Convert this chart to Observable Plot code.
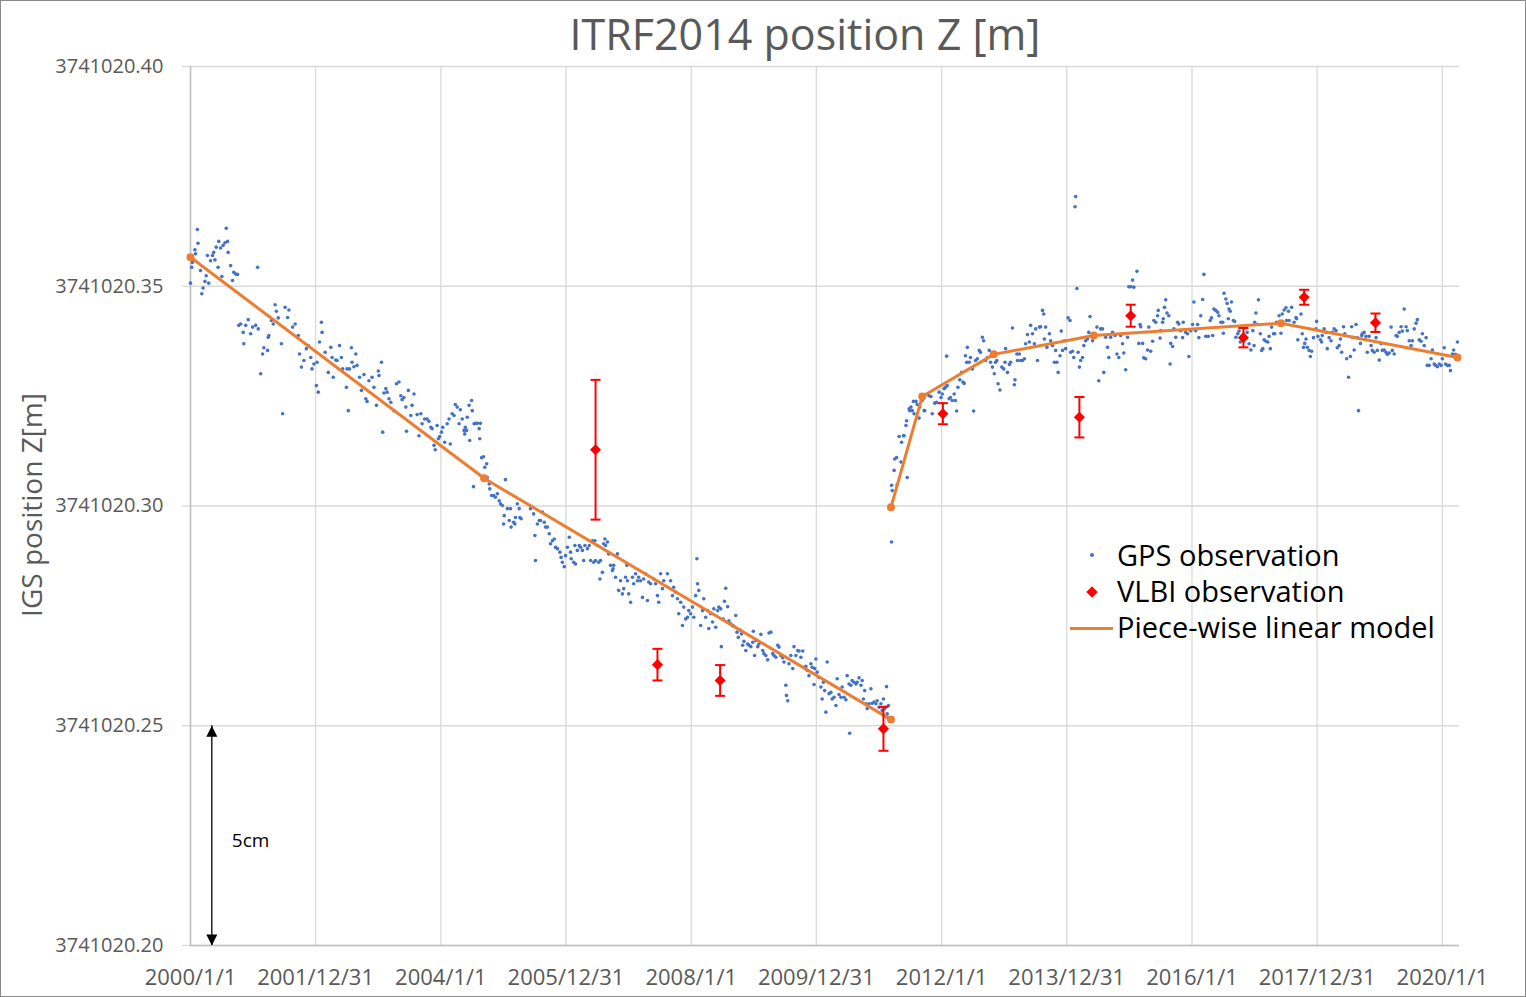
<!DOCTYPE html>
<html><head><meta charset="utf-8">
<script src="https://cdn.jsdelivr.net/npm/d3@7"></script>
<script src="https://cdn.jsdelivr.net/npm/@observablehq/plot@0.6"></script>
<style>
body{margin:0;background:#fff;}
#wrap{position:relative;width:1526px;height:997px;font-family:"Open Sans",sans-serif;overflow:hidden;}
#frame{position:absolute;left:0;top:0;width:1524px;height:995px;border:1px solid #898989;pointer-events:none;}
#title{position:absolute;left:805px;top:12px;transform:translateX(-50%);white-space:nowrap;font-size:43px;line-height:1;color:#595959;}
#ytitle{position:absolute;left:31px;top:505px;transform:translate(-50%,-50%) rotate(-90deg);white-space:nowrap;font-size:28px;line-height:1;color:#595959;}
.lt{position:absolute;left:1117px;font-size:29px;line-height:1;color:#000;white-space:nowrap;}
#plot{position:absolute;left:0;top:0;}
</style></head>
<body>
<div id="wrap">
  <div id="plot"></div>
  <div id="title">ITRF2014 position Z [m]</div>
  <div id="ytitle">IGS position Z[m]</div>
  <div style="position:absolute;left:1090px;top:553px;width:4px;height:4px;border-radius:50%;background:#4472C4"></div>
  <div class="lt" style="top:540px">GPS observation</div>
  <div style="position:absolute;left:1087.5px;top:587.5px;width:8px;height:8px;background:#FF0000;transform:rotate(45deg)"></div>
  <div class="lt" style="top:576px">VLBI observation</div>
  <div style="position:absolute;left:1070px;top:627px;width:43px;height:3px;background:#ED7D31"></div>
  <div class="lt" style="top:612px">Piece-wise linear model</div>
  <div id="frame"></div>
</div>
<script>
// ---- data (decimal year, Z in metres) ----
const xTickDates = ["2000-01-01","2001-12-31","2004-01-01","2005-12-31","2008-01-01","2009-12-31","2012-01-01","2013-12-31","2016-01-01","2017-12-31","2020-01-01"];
const yTickValues = [3741020.20, 3741020.25, 3741020.30, 3741020.35, 3741020.40];
const xDomain = ["2000-01-01", "2020-04-10"];
const yDomain = [3741020.20, 3741020.40];

const gps = [
[2000.00,3741020.3507],[2000.02,3741020.3543],[2000.03,3741020.3554],[2000.07,3741020.3583],[2000.08,3741020.3574],[2000.11,3741020.3629],[2000.12,3741020.3598],[2000.16,3741020.3536],[2000.18,3741020.3483],[2000.20,3741020.3496],[2000.23,3741020.3511],[2000.25,3741020.3524],[2000.27,3741020.3570],[2000.29,3741020.3507],[2000.32,3741020.3558],[2000.35,3741020.3570],[2000.37,3741020.3577],[2000.39,3741020.3560],[2000.41,3741020.3589],[2000.44,3741020.3543],[2000.45,3741020.3602],[2000.48,3741020.3587],[2000.50,3741020.3522],[2000.52,3741020.3593],[2000.55,3741020.3599],[2000.57,3741020.3632],[2000.59,3741020.3602],[2000.60,3741020.3577],[2000.64,3741020.3547],[2000.67,3741020.3513],[2000.69,3741020.3532],[2000.72,3741020.3528],[2000.75,3741020.3527],
[2000.77,3741020.3411],[2000.80,3741020.3414],[2000.84,3741020.3395],[2000.85,3741020.3369],[2000.88,3741020.3411],[2000.92,3741020.3424],[2000.96,3741020.3392],[2000.99,3741020.3407],[2001.04,3741020.3411],[2001.07,3741020.3543],[2001.08,3741020.3403],[2001.12,3741020.3301],[2001.15,3741020.3346],[2001.17,3741020.3360],[2001.23,3741020.3354],[2001.24,3741020.3384],[2001.25,3741020.3388],[2001.29,3741020.3422],[2001.32,3741020.3414],[2001.35,3741020.3458],[2001.37,3741020.3443],[2001.40,3741020.3428],[2001.45,3741020.3369],[2001.47,3741020.3210],[2001.51,3741020.3452],[2001.55,3741020.3429],[2001.57,3741020.3446],[2001.63,3741020.3407],[2001.67,3741020.3414],[2001.72,3741020.3388],[2001.74,3741020.3346],[2001.77,3741020.3316],[2001.81,3741020.3331],[2001.85,3741020.3358],[2001.88,3741020.3365],[2001.92,3741020.3338],[2001.94,3741020.3312],[2001.97,3741020.3323],
[2002.01,3741020.3274],[2002.02,3741020.3327],[2002.04,3741020.3259],[2002.06,3741020.3373],[2002.09,3741020.3418],[2002.10,3741020.3395],[2002.15,3741020.3350],[2002.20,3741020.3304],[2002.24,3741020.3361],[2002.26,3741020.3338],[2002.28,3741020.3293],[2002.32,3741020.3332],[2002.34,3741020.3331],[2002.38,3741020.3365],[2002.41,3741020.3338],[2002.43,3741020.3312],[2002.49,3741020.3270],[2002.50,3741020.3312],[2002.52,3741020.3217],[2002.54,3741020.3312],[2002.57,3741020.3360],[2002.58,3741020.3327],[2002.61,3741020.3317],[2002.64,3741020.3346],[2002.66,3741020.3320],[2002.70,3741020.3293],[2002.73,3741020.3263],[2002.77,3741020.3299],[2002.80,3741020.3244],[2002.82,3741020.3238],[2002.85,3741020.3285],[2002.90,3741020.3293],[2002.93,3741020.3270],[2002.97,3741020.3229],
[2003.00,3741020.3307],[2003.01,3741020.3297],[2003.05,3741020.3327],[2003.07,3741020.3168],[2003.09,3741020.3257],[2003.12,3741020.3267],[2003.14,3741020.3259],[2003.17,3741020.3244],[2003.20,3741020.3236],[2003.25,3741020.3217],[2003.29,3741020.3278],[2003.33,3741020.3282],[2003.36,3741020.3251],[2003.38,3741020.3242],[2003.41,3741020.3247],[2003.44,3741020.3225],[2003.45,3741020.3170],[2003.48,3741020.3263],[2003.52,3741020.3206],[2003.54,3741020.3229],[2003.57,3741020.3255],[2003.62,3741020.3208],[2003.65,3741020.3160],[2003.68,3741020.3210],[2003.70,3741020.3187],[2003.74,3741020.3198],[2003.78,3741020.3198],[2003.81,3741020.3193],[2003.84,3741020.3179],[2003.86,3741020.3176],[2003.89,3741020.3138],[2003.91,3741020.3128],[2003.94,3741020.3183],[2003.96,3741020.3153],[2003.98,3741020.3158],
[2004.01,3741020.3168],[2004.03,3741020.3179],[2004.06,3741020.3145],[2004.10,3741020.3187],[2004.13,3741020.3198],[2004.15,3741020.3141],[2004.18,3741020.3210],[2004.21,3741020.3206],[2004.23,3741020.3231],[2004.26,3741020.3225],[2004.29,3741020.3187],[2004.31,3741020.3219],[2004.34,3741020.3198],[2004.37,3741020.3172],[2004.38,3741020.3164],[2004.39,3741020.3179],[2004.41,3741020.3172],[2004.42,3741020.3202],[2004.45,3741020.3229],[2004.46,3741020.3149],[2004.49,3741020.3240],[2004.50,3741020.3217],[2004.52,3741020.3044],[2004.53,3741020.3187],[2004.55,3741020.3188],[2004.58,3741020.3188],[2004.61,3741020.3176],[2004.62,3741020.3153],[2004.63,3741020.3188],[2004.65,3741020.3110],[2004.68,3741020.3112],[2004.70,3741020.3088],[2004.73,3741020.3096],[2004.74,3741020.3065],[2004.77,3741020.3050],[2004.78,3741020.3039],[2004.81,3741020.3024],[2004.84,3741020.3024],[2004.87,3741020.3020],[2004.90,3741020.3028],[2004.93,3741020.3012],[2004.95,3741020.3005],[2004.98,3741020.3001],
[2005.00,3741020.2959],[2005.01,3741020.2978],[2005.03,3741020.3060],[2005.06,3741020.2994],[2005.09,3741020.2967],[2005.11,3741020.2994],[2005.12,3741020.2952],[2005.16,3741020.2963],[2005.18,3741020.2959],[2005.19,3741020.2974],[2005.22,3741020.3005],[2005.25,3741020.2994],[2005.26,3741020.2974],[2005.28,3741020.2971],[2005.43,3741020.2994],[2005.48,3741020.2982],[2005.50,3741020.2933],[2005.51,3741020.2876],[2005.54,3741020.2959],[2005.57,3741020.2967],[2005.59,3741020.2967],[2005.62,3741020.2986],[2005.65,3741020.2963],[2005.67,3741020.2952],[2005.70,3741020.2952],[2005.73,3741020.2937],[2005.75,3741020.2914],[2005.78,3741020.2921],[2005.81,3741020.2925],[2005.83,3741020.2906],[2005.86,3741020.2903],[2005.90,3741020.2895],[2005.92,3741020.2883],[2005.94,3741020.2872],[2005.97,3741020.2862],[2005.99,3741020.2887],
[2006.02,3741020.2906],[2006.05,3741020.2929],[2006.07,3741020.2895],[2006.08,3741020.2880],[2006.12,3741020.2872],[2006.14,3741020.2910],[2006.15,3741020.2868],[2006.18,3741020.2899],[2006.21,3741020.2910],[2006.23,3741020.2906],[2006.26,3741020.2899],[2006.28,3741020.2876],[2006.30,3741020.2910],[2006.34,3741020.2903],[2006.37,3741020.2910],[2006.39,3741020.2876],[2006.42,3741020.2921],[2006.44,3741020.2872],[2006.46,3741020.2921],[2006.47,3741020.2876],[2006.50,3741020.2910],[2006.52,3741020.2872],[2006.54,3741020.2834],[2006.55,3741020.2876],[2006.58,3741020.2849],[2006.60,3741020.2914],[2006.62,3741020.2925],[2006.63,3741020.2910],[2006.66,3741020.2918],[2006.68,3741020.2891],[2006.71,3741020.2865],[2006.74,3741020.2853],[2006.75,3741020.2857],[2006.76,3741020.2865],[2006.79,3741020.2838],[2006.82,3741020.2891],[2006.84,3741020.2808],[2006.87,3741020.2830],[2006.90,3741020.2800],[2006.92,3741020.2812],[2006.95,3741020.2838],[2006.97,3741020.2865],[2006.98,3741020.2830],
[2007.00,3741020.2800],[2007.03,3741020.2781],[2007.06,3741020.2838],[2007.08,3741020.2823],[2007.11,3741020.2846],[2007.14,3741020.2830],[2007.16,3741020.2838],[2007.19,3741020.2830],[2007.22,3741020.2792],[2007.24,3741020.2834],[2007.27,3741020.2846],[2007.30,3741020.2785],[2007.32,3741020.2827],[2007.35,3741020.2823],[2007.40,3741020.2834],[2007.43,3741020.2823],[2007.46,3741020.2796],[2007.48,3741020.2781],[2007.51,3741020.2846],[2007.54,3741020.2812],[2007.56,3741020.2830],[2007.62,3741020.2846],[2007.67,3741020.2830],[2007.70,3741020.2796],[2007.72,3741020.2815],[2007.75,3741020.2804],[2007.78,3741020.2789],[2007.80,3741020.2755],[2007.83,3741020.2781],[2007.86,3741020.2728],[2007.88,3741020.2770],[2007.91,3741020.2743],[2007.94,3741020.2747],[2007.96,3741020.2762],[2007.99,3741020.2755],
[2008.02,3741020.2770],[2008.04,3741020.2747],[2008.07,3741020.2796],[2008.09,3741020.2880],[2008.10,3741020.2823],[2008.12,3741020.2808],[2008.15,3741020.2728],[2008.18,3741020.2762],[2008.20,3741020.2789],[2008.23,3741020.2747],[2008.26,3741020.2762],[2008.28,3741020.2721],[2008.31,3741020.2755],[2008.34,3741020.2736],[2008.36,3741020.2766],[2008.39,3741020.2724],[2008.42,3741020.2762],[2008.44,3741020.2770],[2008.47,3741020.2766],[2008.48,3741020.2680],[2008.51,3741020.2743],[2008.53,3741020.2783],[2008.55,3741020.2813],[2008.58,3741020.2771],[2008.60,3741020.2739],[2008.63,3741020.2732],[2008.66,3741020.2728],[2008.68,3741020.2726],[2008.71,3741020.2751],[2008.73,3741020.2713],[2008.75,3741020.2701],[2008.78,3741020.2718],[2008.80,3741020.2709],[2008.82,3741020.2683],[2008.84,3741020.2692],[2008.87,3741020.2671],[2008.90,3741020.2686],[2008.92,3741020.2683],[2008.95,3741020.2680],[2008.98,3741020.2690],[2008.99,3741020.2715],
[2009.01,3741020.2660],[2009.03,3741020.2694],[2009.06,3741020.2680],[2009.08,3741020.2686],[2009.11,3741020.2708],[2009.14,3741020.2671],[2009.16,3741020.2664],[2009.19,3741020.2660],[2009.22,3741020.2650],[2009.24,3741020.2711],[2009.27,3741020.2713],[2009.30,3741020.2664],[2009.32,3741020.2660],[2009.35,3741020.2656],[2009.38,3741020.2683],[2009.40,3741020.2679],[2009.43,3741020.2660],[2009.46,3741020.2655],[2009.48,3741020.2645],[2009.51,3741020.2592],[2009.52,3741020.2569],[2009.54,3741020.2557],[2009.56,3741020.2641],[2009.59,3741020.2660],[2009.62,3741020.2630],[2009.64,3741020.2680],[2009.67,3741020.2660],[2009.70,3741020.2671],[2009.72,3741020.2670],[2009.75,3741020.2656],[2009.78,3741020.2670],[2009.80,3741020.2633],[2009.83,3741020.2635],[2009.85,3741020.2626],[2009.88,3741020.2614],[2009.91,3741020.2641],[2009.93,3741020.2633],[2009.96,3741020.2594],[2009.97,3741020.2630],[2009.99,3741020.2652],
[2010.01,3741020.2622],[2010.04,3741020.2610],[2010.07,3741020.2588],[2010.09,3741020.2561],[2010.11,3741020.2599],[2010.13,3741020.2580],[2010.15,3741020.2531],[2010.17,3741020.2645],[2010.20,3741020.2573],[2010.23,3741020.2576],[2010.25,3741020.2561],[2010.28,3741020.2565],[2010.31,3741020.2546],[2010.33,3741020.2607],[2010.36,3741020.2571],[2010.39,3741020.2565],[2010.41,3741020.2588],[2010.44,3741020.2565],[2010.47,3741020.2559],[2010.49,3741020.2614],[2010.52,3741020.2595],[2010.53,3741020.2483],[2010.55,3741020.2592],[2010.57,3741020.2603],[2010.60,3741020.2599],[2010.63,3741020.2595],[2010.65,3741020.2599],[2010.68,3741020.2609],[2010.71,3741020.2592],[2010.73,3741020.2603],[2010.75,3741020.2561],[2010.77,3741020.2580],[2010.79,3741020.2550],[2010.81,3741020.2539],[2010.84,3741020.2550],[2010.87,3741020.2584],[2010.89,3741020.2551],[2010.92,3741020.2554],[2010.95,3741020.2550],[2010.97,3741020.2557],
[2011.00,3741020.2542],[2011.03,3741020.2550],[2011.05,3741020.2535],[2011.07,3741020.2561],[2011.09,3741020.2539],[2011.10,3741020.2542],[2011.12,3741020.2589],[2011.13,3741020.2527],[2011.15,3741020.2546],
[2011.20,3741020.2918],[2011.20,3741020.3047],[2011.21,3741020.3035],[2011.24,3741020.3081],[2011.25,3741020.3107],[2011.28,3741020.3110],[2011.29,3741020.3049],[2011.32,3741020.3158],[2011.35,3741020.3100],[2011.36,3741020.3145],[2011.39,3741020.3160],[2011.40,3741020.3160],[2011.43,3741020.3183],[2011.44,3741020.3194],[2011.45,3741020.3065],[2011.48,3741020.3221],[2011.49,3741020.3217],[2011.51,3741020.3225],[2011.53,3741020.3217],[2011.55,3741020.3238],[2011.56,3741020.3210],[2011.59,3741020.3238],[2011.61,3741020.3231],[2011.64,3741020.3200],[2011.65,3741020.3225],[2011.69,3741020.3240],[2011.72,3741020.3217],[2011.73,3741020.3217],[2011.77,3741020.3255],[2011.80,3741020.3251],[2011.83,3741020.3249],[2011.85,3741020.3210],[2011.89,3741020.3234],[2011.92,3741020.3236],[2011.96,3741020.3259],[2011.99,3741020.3247],
[2012.01,3741020.3255],[2012.04,3741020.3267],[2012.06,3741020.3270],[2012.08,3741020.3341],[2012.09,3741020.3274],[2012.12,3741020.3244],[2012.14,3741020.3247],[2012.17,3741020.3240],[2012.20,3741020.3255],[2012.22,3741020.3240],[2012.24,3741020.3216],[2012.26,3741020.3270],[2012.29,3741020.3287],[2012.32,3741020.3304],[2012.34,3741020.3282],[2012.36,3741020.3279],[2012.38,3741020.3342],[2012.40,3741020.3327],[2012.41,3741020.3361],[2012.44,3741020.3327],[2012.46,3741020.3338],[2012.49,3741020.3312],[2012.51,3741020.3216],[2012.54,3741020.3331],[2012.57,3741020.3335],[2012.60,3741020.3354],[2012.62,3741020.3350],[2012.65,3741020.3384],[2012.67,3741020.3376],[2012.70,3741020.3331],[2012.73,3741020.3338],[2012.76,3741020.3354],[2012.78,3741020.3327],[2012.81,3741020.3316],[2012.84,3741020.3301],[2012.86,3741020.3327],[2012.88,3741020.3331],[2012.90,3741020.3278],[2012.93,3741020.3264],[2012.96,3741020.3316],[2012.99,3741020.3312],
[2013.01,3741020.3327],[2013.02,3741020.3358],[2013.05,3741020.3304],[2013.08,3741020.3322],[2013.10,3741020.3327],[2013.13,3741020.3405],[2013.16,3741020.3276],[2013.17,3741020.3287],[2013.20,3741020.3346],[2013.21,3741020.3331],[2013.24,3741020.3346],[2013.26,3741020.3331],[2013.29,3741020.3331],[2013.32,3741020.3335],[2013.34,3741020.3369],[2013.37,3741020.3390],[2013.40,3741020.3373],[2013.42,3741020.3411],[2013.45,3741020.3392],[2013.48,3741020.3369],[2013.50,3741020.3403],[2013.53,3741020.3331],[2013.56,3741020.3407],[2013.58,3741020.3408],[2013.61,3741020.3445],[2013.63,3741020.3437],[2013.64,3741020.3380],[2013.66,3741020.3407],[2013.68,3741020.3361],[2013.72,3741020.3392],[2013.74,3741020.3376],[2013.77,3741020.3365],[2013.80,3741020.3327],[2013.82,3741020.3354],[2013.84,3741020.3327],[2013.86,3741020.3304],[2013.89,3741020.3342],[2013.91,3741020.3398],[2013.93,3741020.3354],[2013.96,3741020.3376],[2013.98,3741020.3358],
[2014.02,3741020.3428],[2014.05,3741020.3422],[2014.06,3741020.3350],[2014.09,3741020.3352],[2014.11,3741020.3338],[2014.13,3741020.3681],[2014.14,3741020.3704],[2014.16,3741020.3495],[2014.18,3741020.3350],[2014.20,3741020.3316],[2014.22,3741020.3331],[2014.25,3741020.3338],[2014.27,3741020.3365],[2014.30,3741020.3376],[2014.33,3741020.3380],[2014.35,3741020.3395],[2014.37,3741020.3431],[2014.41,3741020.3376],[2014.44,3741020.3384],[2014.48,3741020.3407],[2014.51,3741020.3285],[2014.54,3741020.3403],[2014.57,3741020.3403],[2014.59,3741020.3304],[2014.62,3741020.3384],[2014.65,3741020.3361],[2014.67,3741020.3338],[2014.70,3741020.3384],[2014.73,3741020.3395],[2014.77,3741020.3388],[2014.80,3741020.3346],[2014.83,3741020.3338],[2014.86,3741020.3388],[2014.89,3741020.3369],[2014.91,3741020.3348],[2014.94,3741020.3310],[2014.97,3741020.3384],[2014.99,3741020.3499],
[2015.02,3741020.3499],[2015.05,3741020.3514],[2015.07,3741020.3498],[2015.12,3741020.3534],[2015.15,3741020.3370],[2015.17,3741020.3413],[2015.18,3741020.3408],[2015.21,3741020.3370],[2015.23,3741020.3337],[2015.26,3741020.3335],[2015.29,3741020.3355],[2015.31,3741020.3407],[2015.34,3741020.3352],[2015.37,3741020.3375],[2015.39,3741020.3422],[2015.42,3741020.3418],[2015.45,3741020.3433],[2015.46,3741020.3445],[2015.49,3741020.3382],[2015.50,3741020.3399],[2015.53,3741020.3418],[2015.54,3741020.3426],[2015.56,3741020.3452],[2015.58,3741020.3469],[2015.60,3741020.3439],[2015.63,3741020.3433],[2015.65,3741020.3323],[2015.66,3741020.3370],[2015.69,3741020.3363],[2015.71,3741020.3403],[2015.74,3741020.3384],[2015.77,3741020.3418],[2015.79,3741020.3414],[2015.82,3741020.3399],[2015.85,3741020.3383],[2015.86,3741020.3418],[2015.90,3741020.3395],[2015.93,3741020.3392],[2015.95,3741020.3340],[2015.98,3741020.3399],
[2016.01,3741020.3413],[2016.03,3741020.3464],[2016.06,3741020.3399],[2016.09,3741020.3413],[2016.11,3741020.3383],[2016.14,3741020.3433],[2016.17,3741020.3470],[2016.19,3741020.3527],[2016.22,3741020.3386],[2016.26,3741020.3386],[2016.29,3741020.3422],[2016.31,3741020.3428],[2016.33,3741020.3388],[2016.35,3741020.3448],[2016.38,3741020.3445],[2016.41,3741020.3441],[2016.43,3741020.3433],[2016.46,3741020.3418],[2016.49,3741020.3418],[2016.50,3741020.3393],[2016.51,3741020.3484],[2016.54,3741020.3471],[2016.56,3741020.3461],[2016.58,3741020.3426],[2016.59,3741020.3448],[2016.61,3741020.3443],[2016.63,3741020.3464],[2016.66,3741020.3422],[2016.68,3741020.3420],[2016.70,3741020.3384],[2016.73,3741020.3392],[2016.75,3741020.3398],[2016.77,3741020.3373],[2016.81,3741020.3388],[2016.84,3741020.3405],[2016.88,3741020.3395],[2016.91,3741020.3369],[2016.94,3741020.3355],[2016.97,3741020.3399],[2016.99,3741020.3365],
[2017.00,3741020.3418],[2017.02,3741020.3439],[2017.05,3741020.3413],[2017.06,3741020.3469],[2017.09,3741020.3392],[2017.11,3741020.3354],[2017.13,3741020.3358],[2017.15,3741020.3378],[2017.18,3741020.3375],[2017.21,3741020.3373],[2017.23,3741020.3386],[2017.25,3741020.3358],[2017.27,3741020.3407],[2017.30,3741020.3392],[2017.32,3741020.3392],[2017.35,3741020.3418],[2017.39,3741020.3433],[2017.42,3741020.3393],[2017.44,3741020.3437],[2017.47,3741020.3446],[2017.50,3741020.3451],[2017.51,3741020.3422],[2017.54,3741020.3443],[2017.55,3741020.3422],[2017.59,3741020.3452],[2017.63,3741020.3418],[2017.66,3741020.3429],[2017.67,3741020.3426],[2017.69,3741020.3378],[2017.74,3741020.3437],[2017.76,3741020.3392],[2017.78,3741020.3361],[2017.80,3741020.3370],[2017.82,3741020.3380],[2017.84,3741020.3361],[2017.87,3741020.3354],[2017.89,3741020.3340],[2017.91,3741020.3352],[2017.94,3741020.3383],[2017.98,3741020.3403],[2017.99,3741020.3420],
[2018.01,3741020.3386],[2018.05,3741020.3378],[2018.07,3741020.3373],[2018.08,3741020.3388],[2018.11,3741020.3403],[2018.14,3741020.3395],[2018.16,3741020.3358],[2018.19,3741020.3383],[2018.22,3741020.3376],[2018.24,3741020.3395],[2018.27,3741020.3403],[2018.30,3741020.3399],[2018.32,3741020.3360],[2018.35,3741020.3365],[2018.37,3741020.3380],[2018.39,3741020.3350],[2018.42,3741020.3408],[2018.44,3741020.3392],[2018.47,3741020.3335],[2018.50,3741020.3293],[2018.53,3741020.3340],[2018.55,3741020.3408],[2018.56,3741020.3384],[2018.59,3741020.3355],[2018.62,3741020.3413],[2018.64,3741020.3383],[2018.66,3741020.3217],[2018.69,3741020.3370],[2018.71,3741020.3388],[2018.72,3741020.3392],[2018.75,3741020.3395],[2018.78,3741020.3386],[2018.80,3741020.3350],[2018.83,3741020.3386],[2018.86,3741020.3365],[2018.88,3741020.3354],[2018.91,3741020.3350],[2018.94,3741020.3383],[2018.96,3741020.3354],[2018.99,3741020.3332],
[2019.02,3741020.3369],[2019.04,3741020.3354],[2019.07,3741020.3355],[2019.10,3741020.3350],[2019.12,3741020.3345],[2019.15,3741020.3348],[2019.18,3741020.3407],[2019.20,3741020.3354],[2019.23,3741020.3346],[2019.26,3741020.3388],[2019.28,3741020.3386],[2019.31,3741020.3395],[2019.34,3741020.3408],[2019.36,3741020.3398],[2019.39,3741020.3448],[2019.42,3741020.3408],[2019.44,3741020.3399],[2019.47,3741020.3376],[2019.50,3741020.3365],[2019.52,3741020.3376],[2019.55,3741020.3403],[2019.58,3741020.3416],[2019.60,3741020.3424],[2019.63,3741020.3378],[2019.66,3741020.3375],[2019.68,3741020.3392],[2019.71,3741020.3365],[2019.74,3741020.3383],[2019.76,3741020.3320],[2019.79,3741020.3320],[2019.82,3741020.3335],[2019.84,3741020.3355],[2019.87,3741020.3323],[2019.89,3741020.3320],[2019.92,3741020.3317],[2019.95,3741020.3323],[2019.98,3741020.3320],
[2020.00,3741020.3335],[2020.03,3741020.3360],[2020.05,3741020.3323],[2020.08,3741020.3320],[2020.11,3741020.3320],[2020.13,3741020.3308],[2020.16,3741020.3346],[2020.18,3741020.3355],[2020.21,3741020.3345],[2020.24,3741020.3373]
];

const vlbiYear = [2006.47, 2007.46, 2008.46, 2011.07, 2012.02, 2014.20, 2015.02, 2016.82, 2017.79, 2018.93];
const vlbiZ    = [3741020.3128, 3741020.2639, 3741020.2603, 3741020.2493, 3741020.3210, 3741020.3202, 3741020.3433, 3741020.3383, 3741020.3475, 3741020.3417];
const vlbiErr  = [0.0159, 0.0036, 0.0035, 0.0050, 0.0024, 0.0046, 0.0025, 0.0022, 0.0017, 0.0021];

const modelYear = [2000.00, 2004.69, 2011.19, 2011.19, 2011.69, 2012.83, 2014.43, 2017.42, 2020.24];
const modelZ    = [3741020.3566, 3741020.3063, 3741020.2514, 3741020.2997, 3741020.3249, 3741020.3345, 3741020.3388, 3741020.3416, 3741020.3338];
const modelSeg  = ["pre", "pre", "pre", "post", "post", "post", "post", "post", "post"];

const scaleBarYear = [2000.34];
const scaleBarTop = [3741020.25];
const scaleBarBottom = [3741020.20];
const scaleBarLabel = ["5cm"];

// ---- helpers ----
function yearToDate(y) {
  const yr = Math.floor(y);
  const a = Date.UTC(yr, 0, 1), b = Date.UTC(yr + 1, 0, 1);
  return new Date(a + (y - yr) * (b - a));
}
const parse = d3.utcParse("%Y-%m-%d");
const fmtX = d3.utcFormat("%Y/%-m/%-d");

const gpsData = gps.map(([t, z]) => ({date: yearToDate(t), z}));
const vlbiData = vlbiYear.map((t, i) => ({date: yearToDate(t), z: vlbiZ[i], lo: vlbiZ[i] - vlbiErr[i], hi: vlbiZ[i] + vlbiErr[i]}));
const modelData = modelYear.map((t, i) => ({date: yearToDate(t), z: modelZ[i], seg: modelSeg[i]}));
const scaleBar = scaleBarYear.map((t, i) => ({date: yearToDate(t), top: scaleBarTop[i], bottom: scaleBarBottom[i], mid: (scaleBarTop[i] + scaleBarBottom[i]) / 2, label: scaleBarLabel[i]}));

const capSymbol = {draw(ctx, size) { const w = Math.sqrt(size / Math.PI); ctx.moveTo(-w, 0); ctx.lineTo(w, 0); }};
const headUp = {draw(ctx) { ctx.moveTo(0, 0); ctx.lineTo(-5.5, 11); ctx.lineTo(5.5, 11); ctx.closePath(); }};
const headDown = {draw(ctx) { ctx.moveTo(0, 0); ctx.lineTo(-5.5, -11); ctx.lineTo(5.5, -11); ctx.closePath(); }};

const chart = Plot.plot({
  width: 1526, height: 997,
  marginLeft: 190, marginRight: 67, marginTop: 66, marginBottom: 52,
  style: {fontFamily: "'Open Sans', sans-serif", background: "transparent", overflow: "visible"},
  x: {type: "utc", domain: xDomain.map(parse)},
  y: {domain: yDomain},
  marks: [
    Plot.gridX(xTickDates.map(parse), {stroke: "#d9d9d9", strokeOpacity: 1, strokeWidth: 1.3}),
    Plot.gridY(yTickValues, {stroke: "#d9d9d9", strokeOpacity: 1, strokeWidth: 1.3}),
    Plot.axisY(yTickValues, {tickSize: 8, tickPadding: 19, stroke: "#d9d9d9", strokeWidth: 1.3, fill: "#595959", fontSize: 20, tickFormat: d => d.toFixed(2), label: null}),
    Plot.axisX(xTickDates.map(parse), {tickSize: 0, tickPadding: 24, fill: "#595959", fontSize: 22, tickFormat: fmtX, label: null}),
    Plot.ruleX([xDomain[0]].map(parse), {stroke: "#bfbfbf", strokeWidth: 1.5}),
    Plot.ruleY([yDomain[0]], {stroke: "#bfbfbf", strokeWidth: 1.5}),
    // scale bar
    Plot.ruleX(scaleBar, {x: "date", y1: "top", y2: "bottom", stroke: "#000", strokeWidth: 1.3}),
    Plot.dot(scaleBar, {x: "date", y: "top", symbol: headUp, fill: "#000", stroke: null}),
    Plot.dot(scaleBar, {x: "date", y: "bottom", symbol: headDown, fill: "#000", stroke: null}),
    Plot.text(scaleBar, {x: "date", y: "mid", text: "label", dx: 20, dy: 5, textAnchor: "start", fontSize: 19, fill: "#000"}),
    // GPS
    Plot.dot(gpsData, {x: "date", y: "z", r: 1.8, fill: "#4472C4", stroke: null}),
    // model
    Plot.line(modelData, {x: "date", y: "z", z: "seg", stroke: "#ED7D31", strokeWidth: 3}),
    Plot.dot(modelData, {x: "date", y: "z", r: 4, fill: "#ED7D31", stroke: null}),
    // VLBI
    Plot.ruleX(vlbiData, {x: "date", y1: "lo", y2: "hi", stroke: "#FF0000", strokeWidth: 2}),
    Plot.dot(vlbiData, {x: "date", y: "lo", symbol: capSymbol, r: 5, stroke: "#FF0000", strokeWidth: 2, fill: "none"}),
    Plot.dot(vlbiData, {x: "date", y: "hi", symbol: capSymbol, r: 5, stroke: "#FF0000", strokeWidth: 2, fill: "none"}),
    Plot.dot(vlbiData, {x: "date", y: "z", symbol: "diamond2", r: 5, fill: "#FF0000", stroke: null})
  ]
});
document.getElementById("plot").appendChild(chart);
</script>
</body></html>
